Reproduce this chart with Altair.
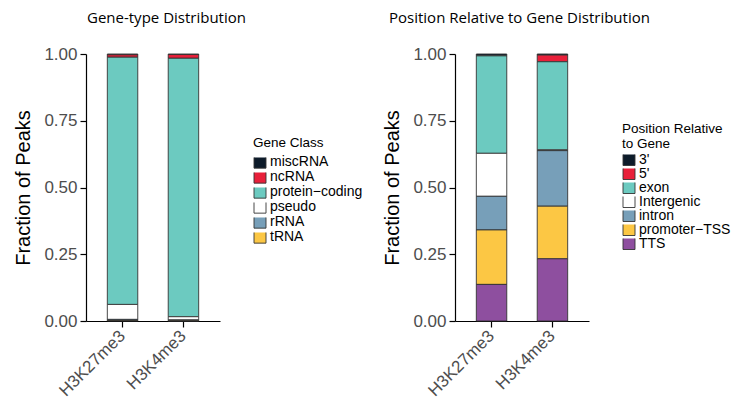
import altair as alt
import pandas as pd

# Samples (x categories)
samples = ["H3K27me3", "H3K4me3"]

# Gene-type distribution: fraction of peaks per gene class
gene_classes = ["miscRNA", "ncRNA", "protein\u2212coding", "pseudo", "rRNA", "tRNA"]
gene_colors = ["#0d1b2a", "#e8203a", "#6ccac0", "#ffffff", "#779fb9", "#fcc744"]
gene_h3k27 = [0.003, 0.009, 0.926, 0.056, 0.004, 0.002]
gene_h3k4 = [0.002, 0.014, 0.968, 0.012, 0.003, 0.001]

# Position relative to gene: fraction of peaks per region
positions = ["3'", "5'", "exon", "Intergenic", "intron", "promoter\u2212TSS", "TTS"]
pos_colors = ["#0d1b2a", "#e8203a", "#6ccac0", "#ffffff", "#779fb9", "#fcc744", "#8e4f9f"]
pos_h3k27 = [0.006, 0.001, 0.365, 0.161, 0.126, 0.204, 0.137]
pos_h3k4 = [0.004, 0.025, 0.330, 0.003, 0.208, 0.197, 0.233]


def long_table(cats, a, b):
    rows = []
    n = len(cats)
    for s, vals in zip(samples, (a, b)):
        for i, (c, v) in enumerate(zip(cats, vals)):
            # last legend entry sits at the bottom of the stack
            rows.append({"sample": s, "cls": c, "fraction": v, "rank": n - 1 - i})
    return pd.DataFrame(rows)


AXIS_FONT = "Liberation Sans"
TITLE_FONT = "Open Sans"


def panel(df, cats, colors, title, legend_title, title_dx, legend_y, legend_opts):
    return (
        alt.Chart(df)
        .mark_bar(stroke="#333333", strokeWidth=0.9)
        .encode(
            x=alt.X(
                "sample:N",
                sort=samples,
                scale=alt.Scale(paddingInner=0.5, paddingOuter=0.35),
                axis=alt.Axis(
                    title=None,
                    labelAngle=-45,
                    labelAlign="right",
                    labelBaseline="middle",
                    labelFontSize=17,
                    labelColor="#4d4d4d",
                    labelFont=AXIS_FONT,
                    labelPadding=6,
                    tickSize=6,
                    tickColor="#000000",
                    domainColor="#000000",
                    domainWidth=1.2,
                    tickWidth=1.2,
                ),
            ),
            y=alt.Y(
                "fraction:Q",
                stack="zero",
                scale=alt.Scale(domain=[0, 1], nice=False),
                axis=alt.Axis(
                    title="Fraction of Peaks",
                    values=[0, 0.25, 0.5, 0.75, 1.0],
                    format=".2f",
                    grid=False,
                    labelFontSize=17,
                    labelColor="#4d4d4d",
                    labelFont=AXIS_FONT,
                    labelPadding=3,
                    tickSize=6,
                    tickColor="#000000",
                    domainColor="#000000",
                    domainWidth=1.2,
                    tickWidth=1.2,
                    titleFont=AXIS_FONT,
                    titleFontSize=20,
                    titleFontWeight="normal",
                    titleColor="#000000",
                    titlePadding=10,
                ),
            ),
            color=alt.Color(
                "cls:N",
                scale=alt.Scale(domain=cats, range=colors),
                legend=alt.Legend(
                    title=legend_title,
                    orient="none",
                    legendX=167,
                    legendY=legend_y,
                    symbolType="square",
                    symbolSize=144,
                    symbolStrokeColor="#333333",
                    symbolStrokeWidth=0.9,
                    symbolOpacity=1,
                    rowPadding=0,
                    labelFont=AXIS_FONT,
                    labelFontSize=14,
                    labelColor="#000000",
                    labelOffset=3,
                    titleFont=AXIS_FONT,
                    titleFontSize=13.5,
                    titleFontWeight="normal",
                    titleColor="#000000",
                    titleLineHeight=15,
                    **legend_opts,
                ),
            ),
            order=alt.Order("rank:Q"),
        )
        .properties(
            width=134,
            height=267,
            title=alt.TitleParams(
                title,
                anchor="start",
                frame="group",
                dx=title_dx,
                font=TITLE_FONT,
                fontSize=15,
                fontWeight="normal",
                color="#000000",
                offset=19,
            ),
        )
    )


left = panel(
    long_table(gene_classes, gene_h3k27, gene_h3k4),
    gene_classes, gene_colors,
    "Gene-type Distribution", "Gene Class", 1, 82,
    dict(clipHeight=9.3, titlePadding=8),
)
right = panel(
    long_table(positions, pos_h3k27, pos_h3k4),
    positions, pos_colors,
    "Position Relative to Gene Distribution", ["Position Relative", "to Gene"], -66, 68,
    dict(clipHeight=10, titlePadding=4),
)

chart = (
    alt.hconcat(left, right, spacing=19)
    .resolve_scale(color="independent")
    .properties(padding={"left": 13, "top": 11, "right": 0, "bottom": 0}, background="#ffffff")
    .configure_view(stroke=None)
)

chart.save("out.html", embed_options={"renderer": "svg", "actions": False})
